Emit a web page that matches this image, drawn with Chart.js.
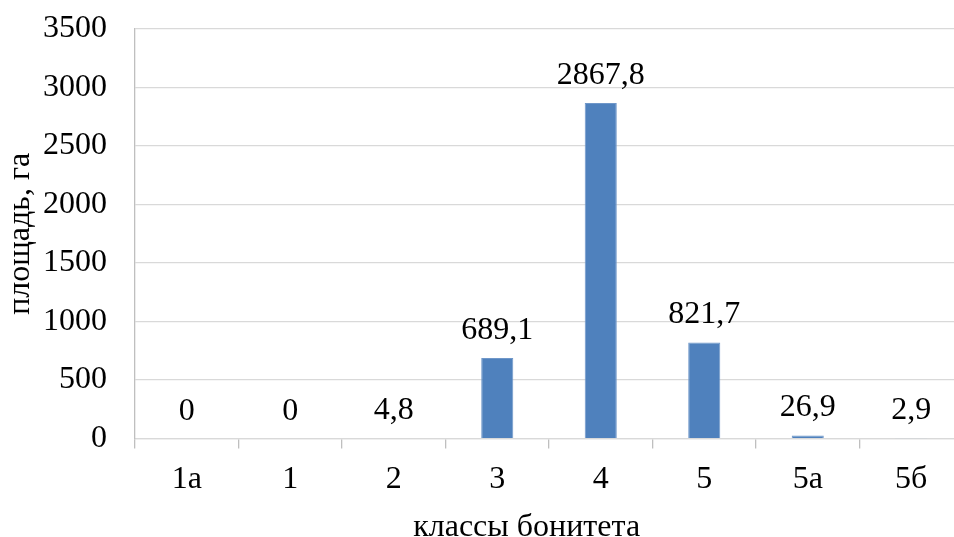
<!DOCTYPE html>
<html>
<head>
<meta charset="utf-8">
<script src="https://cdn.jsdelivr.net/npm/chart.js@4.4.1/dist/chart.umd.min.js"></script>
<style>
  html, body { margin: 0; padding: 0; background: #fff; overflow: hidden; }
  #wrap { position: absolute; left: 0; top: 0; width: 972px; height: 545px; }
</style>
</head>
<body>
<div id="wrap"><canvas id="myChart" width="972" height="545"></canvas></div>
<script>
    const classes = ['1а', '1', '2', '3', '4', '5', '5а', '5б']
    const areas = [0, 0, 4.8, 689.1, 2867.8, 821.7, 26.9, 2.9]
    const yTicks = [0, 500, 1000, 1500, 2000, 2500, 3000, 3500]

    const serif = { family: '"Liberation Serif", "Times New Roman", serif', size: 32 }

    // value labels above the bars plus the x axis title
    const barLabels = {
        id: 'barLabels',
        afterDatasetsDraw(chart) {
            const ctx = chart.ctx
            const meta = chart.getDatasetMeta(0)
            ctx.save()
            ctx.font = serif.size + 'px ' + serif.family
            ctx.fillStyle = '#000'
            ctx.textAlign = 'center'
            ctx.textBaseline = 'alphabetic'
            meta.data.forEach((bar, i) => {
                const txt = String(areas[i]).replace('.', ',')
                ctx.fillText(txt, bar.x, bar.y - 19)
            })
            const area = chart.chartArea
            const cx = area.left + (area.right - area.left) * 0.473
            ctx.fillText('классы бонитета', cx, chart.height - 9)
            ctx.restore()
        }
    }

    const ctx = document.getElementById('myChart').getContext('2d')
    const myChart = new Chart(ctx, {
        type: 'bar',
        data: {
            labels: classes,
            datasets: [{
                data: areas,
                backgroundColor: '#4F81BD',
                borderColor: '#6F97C9',
                borderWidth: 1,
                barPercentage: 0.31,
                categoryPercentage: 1
            }]
        },
        options: {
            responsive: false,
            animation: false,
            devicePixelRatio: 1,
            layout: { padding: { top: 29, right: 9, left: 0, bottom: 34 } },
            plugins: {
                legend: { display: false },
                tooltip: { enabled: false }
            },
            scales: {
                x: {
                    offset: true,
                    grid: {
                        offset: true,
                        drawOnChartArea: false,
                        tickLength: 10,
                        color: '#BFBFBF',
                        lineWidth: 1.3
                    },
                    border: { color: '#D9D9D9', width: 1.3 },
                    ticks: { font: serif, color: '#000', padding: 12, maxRotation: 0 }
                },
                y: {
                    min: 0,
                    max: 3500,
                    afterBuildTicks: axis => {
                        axis.ticks = yTicks.map(v => ({ value: v }))
                    },
                    // fixed axis width, no extra room above/below the plot
                    afterFit: axis => {
                        axis.width = 135
                        axis.paddingTop = 0
                        axis.paddingBottom = 0
                    },
                    grid: { color: '#D9D9D9', lineWidth: 1.3, drawTicks: false },
                    border: { color: '#BFBFBF', width: 1.3 },
                    ticks: { font: serif, color: '#000', padding: 28, callback: v => String(v) },
                    title: {
                        display: true,
                        text: 'площадь, га',
                        font: serif,
                        color: '#000',
                        padding: { top: 1, bottom: 6 }
                    }
                }
            }
        },
        plugins: [barLabels]
    })
</script>
</body>
</html>
